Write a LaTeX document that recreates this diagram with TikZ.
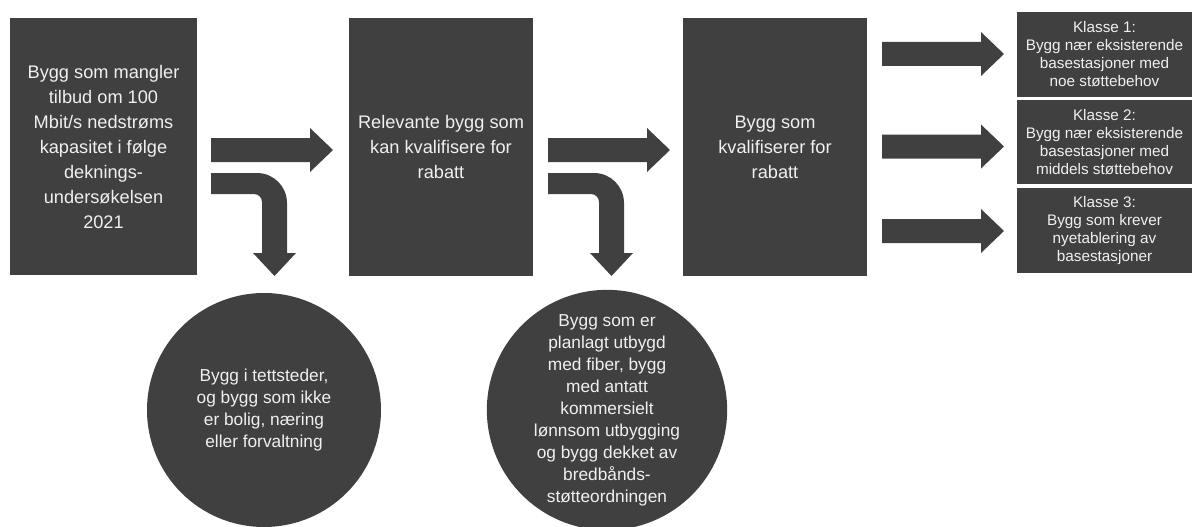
\documentclass[tikz,border=0pt]{standalone}
\usepackage{fontspec}
\setmainfont{Liberation Sans}
\definecolor{dk}{HTML}{404040}
\definecolor{lt}{HTML}{F0F0F0}
\tikzset{
  bigbox/.style={fill=dk, text=lt, inner sep=0pt, align=center, font=\fontsize{18.2}{25}\selectfont},
  klbox/.style={fill=dk, text=lt, inner sep=0pt, align=center, minimum width=175pt, font=\fontsize{15.3}{18}\selectfont},
  disc/.style={circle, fill=dk, text=lt, inner sep=0pt, align=center, minimum size=234pt, font=\fontsize{17.3}{22}\selectfont},
  rarrow/.pic={\fill[dk] (0,-12) -- (99,-12) -- (99,-22) -- (122,0) -- (99,22) -- (99,12) -- (0,12) -- cycle;},
  bentarrow/.pic={\fill[dk] (0,0) -- (46,0) .. controls (62.6,0) and (76,13.4) .. (76,30) -- (76,80) -- (85,80) -- (63.5,103) -- (42,80) -- (51,80) -- (51,29) .. controls (51,24.6) and (47.4,21) .. (43,21) -- (0,21) -- cycle;}
}
\begin{document}
\begin{tikzpicture}[x=1pt,y=-1pt]
\useasboundingbox (0,0) rectangle (1192,527);
\node[bigbox, minimum width=187pt, minimum height=257pt] (b1) at (103.5,146.5)
  {Bygg som mangler\\tilbud om 100\\Mbit/s nedstrøms\\kapasitet i følge\\deknings-\\undersøkelsen\\2021};
\node[bigbox, minimum width=184pt, minimum height=258pt] (b2) at (441,147)
  {Relevante bygg som\\kan kvalifisere for\\rabatt};
\node[bigbox, minimum width=184pt, minimum height=258pt] (b3) at (775,147)
  {Bygg som\\kvalifiserer for\\rabatt};
\node[klbox, minimum height=85pt] (k1) at (1104.5,54.5)
  {Klasse 1:\\Bygg nær eksisterende\\basestasjoner med\\noe støttebehov};
\node[klbox, minimum height=84pt] (k2) at (1104.5,142)
  {Klasse 2:\\Bygg nær eksisterende\\basestasjoner med\\middels støttebehov};
\node[klbox, minimum height=85pt] (k3) at (1104.5,230.5)
  {Klasse 3:\\Bygg som krever\\nyetablering av\\basestasjoner};
\node[disc] (c1) at (264,410)
  {Bygg i tettsteder,\\og bygg som ikke\\er bolig, næring\\eller forvaltning};
\node[disc, minimum size=238pt] (c2) at (607,410)
  {Bygg som er\\planlagt utbygd\\med fiber, bygg\\med antatt\\kommersielt\\lønnsom utbygging\\og bygg dekket av\\bredbånds-\\støtteordningen};
\pic at (211,150) {rarrow};
\pic at (548,150) {rarrow};
\pic at (882,54) {rarrow};
\pic at (882,146.5) {rarrow};
\pic at (882,231) {rarrow};
\pic at (211,173) {bentarrow};
\pic at (548,173) {bentarrow};
\end{tikzpicture}
\end{document}
